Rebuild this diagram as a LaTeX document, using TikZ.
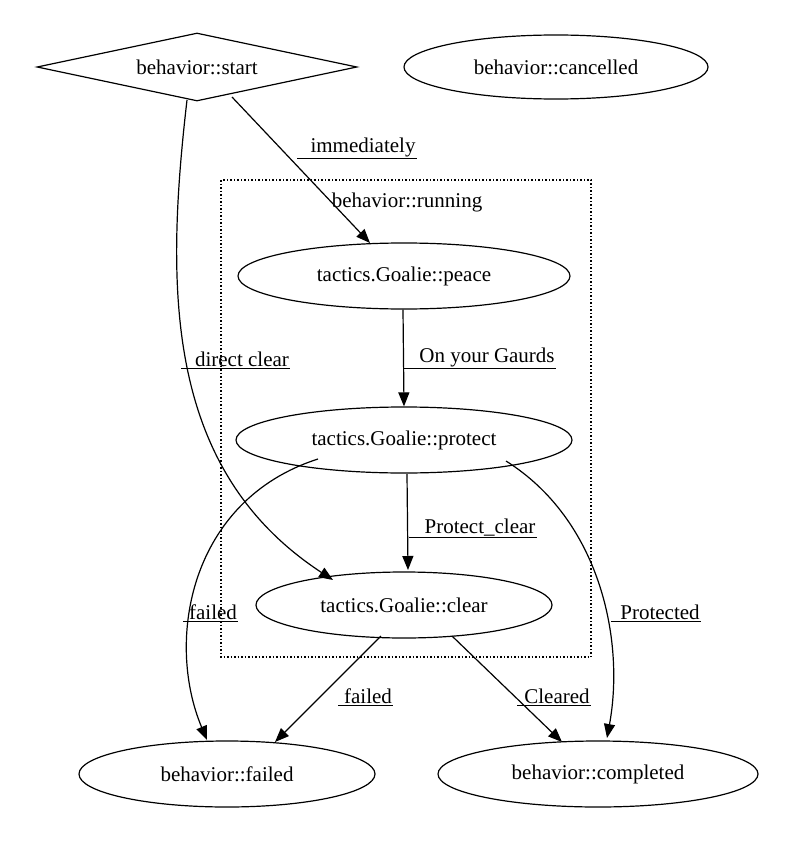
\documentclass[tikz,border=0pt]{standalone}
\usepackage{fontspec}
\setmainfont{Liberation Serif}
\usetikzlibrary{shapes.geometric,arrows.meta}
\begin{document}
\begin{tikzpicture}[x=1pt,y=-1pt,
  every node/.style={font=\fontsize{21}{24}\selectfont},
  st/.style={draw,ellipse,line width=1.2pt,inner sep=0pt},
  arr/.style={line width=1.2pt,-{Triangle[length=14pt,width=11pt]}},
  lab/.style={inner sep=1pt,anchor=south},
  ul/.style={line width=1pt}]
\useasboundingbox (0,0) rectangle (786,843);
\node[draw,diamond,aspect=4.7,line width=1.2pt,minimum width=320,minimum height=68,inner sep=0pt] (start) at (197,67) {behavior::start};
\node[st,minimum width=304,minimum height=64] (canc) at (556,67) {behavior::cancelled};
\draw[dotted,line width=1.5pt] (221,180) rectangle (591,657);
\node (run) at (407,202) {behavior::running};
\node[st,minimum width=332,minimum height=66] (peace) at (404,276) {tactics.Goalie::peace};
\node[st,minimum width=336,minimum height=66] (prot) at (404,440) {tactics.Goalie::protect};
\node[st,minimum width=296,minimum height=66] (clear) at (404,605) {tactics.Goalie::clear};
\node[st,minimum width=296,minimum height=66] (fail) at (227,774) {behavior::failed};
\node[st,minimum width=320,minimum height=66] (comp) at (598,774) {behavior::completed};
% edges
\draw[arr] (232,97) -- (370,243);
\draw[arr] (187,100) .. controls (165,290) and (165,470) .. (333,580);
\draw[arr] (peace.south) ++(-1,0) -- (prot.north);
\draw[arr] (407,474) -- (408,570);
\draw[arr] (318,459) .. controls (190,500) and (165,640) .. (207,740);
\draw[arr] (506,461) .. controls (600,520) and (625,640) .. (607,738);
\draw[arr] (381,636) -- (275,742);
\draw[arr] (452,636) -- (562,742);
% labels
\node[lab] (l1) at (363,158) {immediately};
\draw[ul] (297,158) -- (l1.south east);
\node[lab] (l2) at (242,368) {direct clear};
\draw[ul] (181,368) -- (l2.south east);
\node[lab] (l3) at (487,368) {On your Gaurds};
\draw[ul] (403,368) -- (l3.south east);
\node[lab] (l4) at (480,537) {Protect\_clear};
\draw[ul] (409,537) -- (l4.south east);
\node[lab] (l5) at (213,621) {failed};
\draw[ul] (183,621) -- (l5.south east);
\node[lab] (l6) at (660,621) {Protected};
\draw[ul] (611,621) -- (l6.south east);
\node[lab] (l7) at (368,705) {failed};
\draw[ul] (338,705) -- (l7.south east);
\node[lab] (l8) at (557,705) {Cleared};
\draw[ul] (517,705) -- (l8.south east);
\end{tikzpicture}
\end{document}
